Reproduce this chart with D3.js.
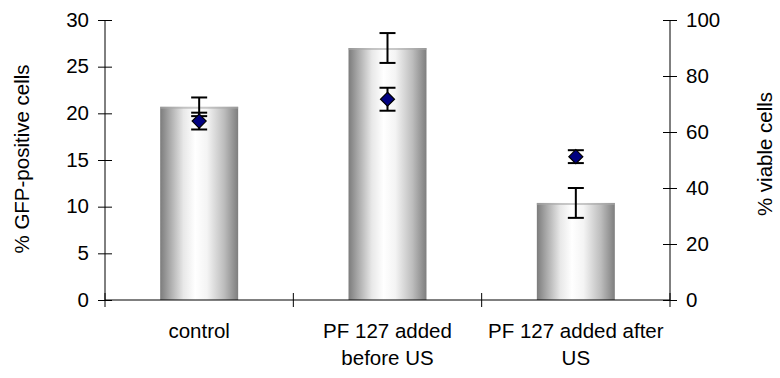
<!DOCTYPE html>
<html>
<head>
<meta charset="utf-8">
<script src="https://cdn.jsdelivr.net/npm/d3@7"></script>
<style>
  html, body { margin: 0; padding: 0; background: #fff; }
  svg { display: block; font-family: "Liberation Sans", Arial, sans-serif; }
</style>
</head>
<body>
<svg id="chart" width="780" height="378"></svg>
<script>
const categories = ["control", "PF 127 added before US", "PF 127 added after US"];
const categoryLines = [["control"], ["PF 127 added", "before US"], ["PF 127 added after", "US"]];
const gfpValues = [20.7, 27.0, 10.4];
const gfpErrors = [1.0, 1.6, 1.6];
const viableValues = [63.9, 71.7, 51.2];
const viableErrors = [3.0, 4.1, 2.3];
const leftTicks = [0, 5, 10, 15, 20, 25, 30];
const rightTicks = [0, 20, 40, 60, 80, 100];

(function () {
const svg = d3.select("#chart");
const pL = 105, pR = 670, pT = 20, pB = 300;
const fs = "20.5px";

const x = d3.scaleBand().domain(categories).range([pL, pR]).padding(0);
const yL = d3.scaleLinear().domain([0, 30]).range([pB, pT]);
const yR = d3.scaleLinear().domain([0, 100]).range([pB, pT]);

const defs = svg.append("defs");
const grad = defs.append("linearGradient").attr("id", "barGrad")
  .attr("x1", "0%").attr("x2", "100%").attr("y1", "0%").attr("y2", "0%");
[[0, "#7c7c7c"], [0.12, "#a8a8a8"], [0.3, "#e8e8e8"], [0.45, "#ffffff"], [0.6, "#f4f4f4"], [0.82, "#bdbdbd"], [1, "#7e7e7e"]]
  .forEach(([o, c]) => grad.append("stop").attr("offset", o).attr("stop-color", c));

const barFrac = 0.414;
const bw = x.bandwidth() * barFrac;
const cx = d => x(d) + x.bandwidth() / 2;

// bars
svg.append("g").selectAll("rect").data(categories).join("rect")
  .attr("x", d => cx(d) - bw / 2)
  .attr("y", (d, i) => yL(gfpValues[i]))
  .attr("width", bw)
  .attr("height", (d, i) => pB - yL(gfpValues[i]))
  .attr("fill", "url(#barGrad)");
svg.append("g").selectAll("line").data(categories).join("line")
  .attr("x1", d => cx(d) - bw / 2).attr("x2", d => cx(d) + bw / 2)
  .attr("y1", (d, i) => yL(gfpValues[i]) + 1).attr("y2", (d, i) => yL(gfpValues[i]) + 1)
  .attr("stroke", "#a9a9a9").attr("stroke-width", 2).attr("opacity", 0.6);

// axes
const fmt = d3.format("d");
const gL = svg.append("g").attr("transform", `translate(${pL},0)`)
  .call(d3.axisLeft(yL).tickValues(leftTicks).tickSize(7).tickPadding(9).tickFormat(fmt));
const gR = svg.append("g").attr("transform", `translate(${pR},0)`)
  .call(d3.axisRight(yR).tickValues(rightTicks).tickSize(7).tickPadding(9).tickFormat(fmt));
[gL, gR].forEach(g => {
  g.select(".domain").attr("d", `M0,${pT}V${pB}`).attr("stroke", "#000");
  g.selectAll(".tick line").attr("stroke", "#000");
  g.selectAll(".tick text").attr("font-size", fs).attr("font-family", "Liberation Sans, Arial, sans-serif").attr("fill", "#000").attr("dy", "0.3em");
});
gL.selectAll(".tick").append("line").attr("x1", 0).attr("x2", 7).attr("stroke", "#000");
gR.selectAll(".tick").append("line").attr("x1", 0).attr("x2", -7).attr("stroke", "#000");

// category axis
const gX = svg.append("g");
gX.append("line").attr("x1", pL).attr("x2", pR).attr("y1", pB).attr("y2", pB).attr("stroke", "#000");
const bounds = categories.map(d => x(d)).concat([x(categories[categories.length - 1]) + x.bandwidth()]);
gX.selectAll("line.tk").data(bounds).join("line").attr("class", "tk")
  .attr("x1", d => d).attr("x2", d => d).attr("y1", pB - 7).attr("y2", pB + 7).attr("stroke", "#000");
const labels = gX.selectAll("text").data(categories).join("text")
  .attr("text-anchor", "middle").attr("font-size", fs).attr("fill", "#000");
labels.each(function (d, i) {
  const t = d3.select(this);
  categoryLines[i].forEach((ln, j) => {
    t.append("tspan").attr("x", cx(d)).attr("y", 338 + j * 26.5).text(ln);
  });
});

// error bars
const cap = 8;
function errBars(g, vals, errs, scale) {
  const sel = g.selectAll("g").data(categories).join("g");
  sel.append("line").attr("x1", d => cx(d)).attr("x2", d => cx(d))
    .attr("y1", (d, i) => scale(vals[i] + errs[i])).attr("y2", (d, i) => scale(vals[i] - errs[i]))
    .attr("stroke", "#000").attr("stroke-width", 2);
  [1, -1].forEach(s => {
    sel.append("line").attr("x1", d => cx(d) - cap).attr("x2", d => cx(d) + cap)
      .attr("y1", (d, i) => scale(vals[i] + s * errs[i])).attr("y2", (d, i) => scale(vals[i] + s * errs[i]))
      .attr("stroke", "#000").attr("stroke-width", 2);
  });
}
errBars(svg.append("g"), gfpValues, gfpErrors, yL);
errBars(svg.append("g"), viableValues, viableErrors, yR);

// diamonds
svg.append("g").selectAll("path").data(categories).join("path")
  .attr("transform", (d, i) => `translate(${cx(d)},${yR(viableValues[i])})`)
  .attr("d", "M0,-7L7,0L0,7L-7,0Z")
  .attr("fill", "#000080").attr("stroke", "#000").attr("stroke-width", 1.2);

// axis titles
svg.append("text").attr("transform", `translate(29,${(pT + pB) / 2 - 1}) rotate(-90)`)
  .attr("text-anchor", "middle").attr("font-size", fs).attr("fill", "#000").text("% GFP-positive cells");
svg.append("text").attr("transform", `translate(772,154) rotate(-90)`)
  .attr("text-anchor", "middle").attr("font-size", fs).attr("fill", "#000").text("% viable cells");
})();
</script>
</body>
</html>
